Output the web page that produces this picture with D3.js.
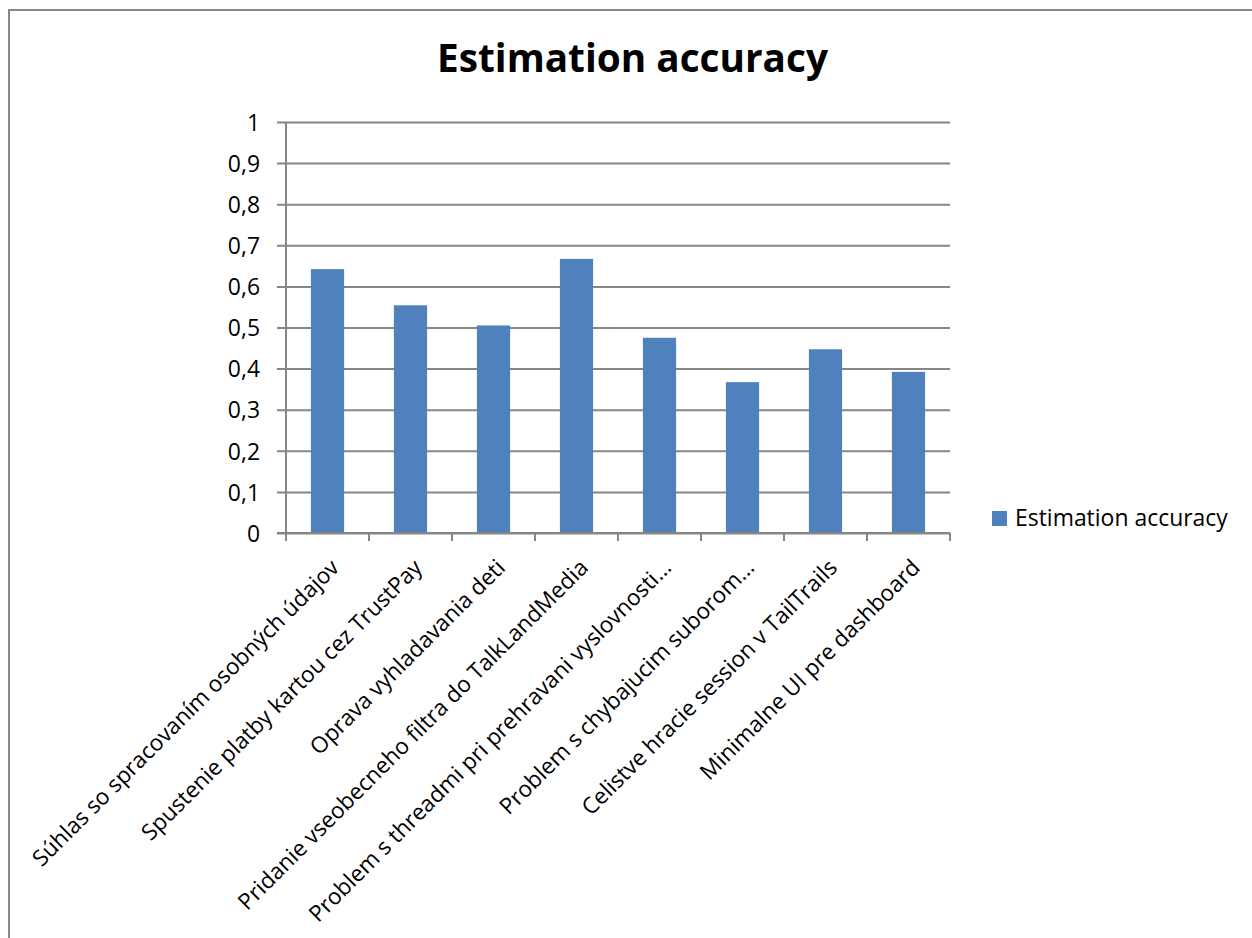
<!DOCTYPE html>
<html>
<head>
<meta charset="utf-8">
<script src="https://cdn.jsdelivr.net/npm/d3@7/dist/d3.min.js"></script>
<style>
  html, body { margin: 0; padding: 0; background: #fff; }
  svg { display: block; }
  text { font-family: "Open Sans", "Liberation Sans", sans-serif; fill: #000; }
</style>
</head>
<body>
<svg id="chart" width="1252" height="938"></svg>
<script>
const categories = [
  "Súhlas so spracovaním osobných údajov",
  "Spustenie platby kartou cez TrustPay",
  "Oprava vyhladavania deti",
  "Pridanie vseobecneho filtra do TalkLandMedia",
  "Problem s threadmi pri prehravani vyslovnosti…",
  "Problem s chybajucim suborom…",
  "Celistve hracie session v TailTrails",
  "Minimalne UI pre dashboard"
];
const values = [0.642, 0.554, 0.505, 0.667, 0.475, 0.367, 0.447, 0.392];
const yTicks = [0, 0.1, 0.2, 0.3, 0.4, 0.5, 0.6, 0.7, 0.8, 0.9, 1];
const yTickLabels = ["0", "0,1", "0,2", "0,3", "0,4", "0,5", "0,6", "0,7", "0,8", "0,9", "1"];
const seriesName = "Estimation accuracy";
const titleText = "Estimation accuracy";

const svg = d3.select("#chart");
const W = 1252, H = 938;
const plot = { left: 286, right: 950, top: 122, bottom: 533 };
const gridColor = "#868686";
const barColor = "#4F81BD";

function fitSize(str, weight, target) {
  const t = svg.append("text").attr("font-size", 100).attr("font-weight", weight).text(str);
  const w = t.node().getComputedTextLength();
  t.remove();
  return 100 * target / w;
}
const baseSize = fitSize(seriesName, "normal", 213);
const titleSize = fitSize(titleText, "bold", 391);

svg.append("rect").attr("width", W).attr("height", H).attr("fill", "#fff");
svg.append("rect").attr("x", 9).attr("y", 10).attr("width", W + 20).attr("height", H + 20)
  .attr("fill", "none").attr("stroke", gridColor).attr("stroke-width", 2);

const x = d3.scaleBand().domain(categories).range([plot.left, plot.right]).paddingInner(0.6).paddingOuter(0.3);
const xOuter = d3.scaleBand().domain(categories).range([plot.left, plot.right]);
const y = d3.scaleLinear().domain([0, 1]).range([plot.bottom, plot.top]);

const yAxis = d3.axisLeft(y).tickValues(yTicks).tickFormat((d, i) => yTickLabels[i])
  .tickSize(-(plot.right - plot.left)).tickPadding(0);
const gy = svg.append("g").attr("transform", `translate(${plot.left},0)`).call(yAxis);
gy.select(".domain").remove();
gy.selectAll(".tick line").attr("stroke", gridColor).attr("stroke-width", 2).attr("x1", -9);
gy.selectAll(".tick text").attr("x", -26).attr("font-size", baseSize).attr("fill", "#000")
  .attr("font-family", "\"Open Sans\", sans-serif").attr("dy", "0.36em");
svg.append("line").attr("x1", plot.left).attr("x2", plot.left).attr("y1", plot.top).attr("y2", plot.bottom)
  .attr("stroke", gridColor).attr("stroke-width", 2);

svg.append("g").selectAll("rect").data(values).join("rect")
  .attr("x", (d, i) => x(categories[i]))
  .attr("width", x.bandwidth())
  .attr("y", d => y(d))
  .attr("height", d => y(0) - y(d))
  .attr("fill", barColor);

svg.append("line").attr("x1", plot.left - 9).attr("x2", plot.right).attr("y1", plot.bottom).attr("y2", plot.bottom)
  .attr("stroke", gridColor).attr("stroke-width", 2);
const boundaries = categories.map(c => xOuter(c)).concat([plot.right]);
svg.append("g").selectAll("line").data(boundaries).join("line")
  .attr("x1", d => d).attr("x2", d => d).attr("y1", plot.bottom).attr("y2", plot.bottom + 8)
  .attr("stroke", gridColor).attr("stroke-width", 2);

svg.append("g").selectAll("text").data(categories).join("text")
  .attr("transform", d => `translate(${xOuter(d) + xOuter.bandwidth() / 2 + 13},${plot.bottom + 36}) rotate(-45)`)
  .attr("text-anchor", "end")
  .attr("font-size", baseSize * 0.98)
  .text(d => d);

svg.append("text").attr("x", 632.5).attr("y", 72).attr("text-anchor", "middle")
  .attr("font-weight", "bold").attr("font-size", titleSize).text(titleText);

svg.append("rect").attr("x", 992).attr("y", 511).attr("width", 15).attr("height", 15).attr("fill", barColor);
svg.append("text").attr("x", 1015).attr("y", 526).attr("font-size", baseSize).text(seriesName);
</script>
</body>
</html>
